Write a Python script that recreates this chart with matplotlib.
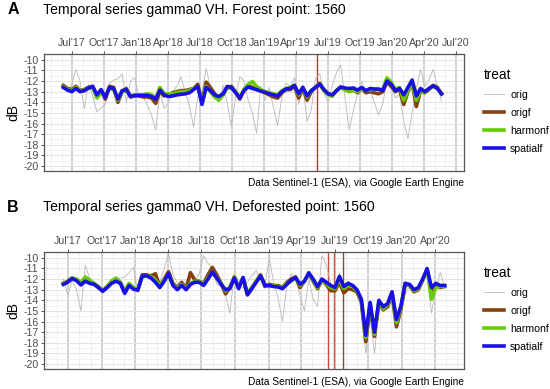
import numpy as np
import pandas as pd
import matplotlib
matplotlib.use("Agg")
import matplotlib.pyplot as plt
import matplotlib.dates as mdates

plt.rcParams['font.family'] = ['Liberation Sans', 'DejaVu Sans']
plt.rcParams['axes.unicode_minus'] = False

# ---- Panel A: forest point ----
start_a = "2017-06-06"
orig_a = [-12.3, -13.0, -12.4, -10.9, -12.0, -14.6, -12.3, -13.4, -14.9, -14.5,
          -14.2, -12.2, -11.9, -11.8, -11.3, -14.0, -12.0, -11.7, -13.5, -13.4,
          -14.3, -15.2, -16.6, -13.0, -14.6, -14.0, -13.0, -12.5, -11.6, -13.0,
          -14.3, -16.3, -13.5, -13.0, -10.8, -12.6, -13.2, -14.0, -12.4, -14.0,
          -16.3, -13.5, -11.6, -12.0, -13.8, -15.0, -16.9, -12.5, -13.8, -12.6,
          -14.5, -16.2, -13.5, -12.2, -12.5, -11.7, -14.2, -12.3, -15.8, -14.7,
          -11.8, -11.3, -13.0, -14.0, -12.4, -11.2, -10.5, -13.5, -16.6, -14.8,
          -13.2, -12.0, -13.1, -12.8, -14.0, -15.2, -14.2, -11.8, -12.2, -13.6,
          -13.2, -15.8, -17.4, -15.0, -12.8, -10.9, -12.5, -11.9, -10.9, -12.5,
          -13.9]
origf_a = [-12.4, -12.7, -12.8, -12.5, -12.9, -12.8, -12.6, -12.5, -13.4, -12.9,
           -13.7, -12.5, -12.6, -14.0, -13.0, -12.7, -13.5, -13.4, -13.4, -13.5,
           -13.5, -13.6, -14.1, -12.9, -13.4, -13.3, -13.1, -13.0, -12.9, -12.9,
           -12.8, -12.7, -12.3, -14.0, -12.1, -12.6, -13.2, -13.6, -13.3, -12.6,
           -12.5, -13.0, -13.7, -12.8, -12.4, -12.6, -12.8, -12.9, -13.1, -13.3,
           -13.5, -13.6, -13.1, -12.8, -12.8, -12.5, -13.6, -12.7, -13.8, -13.0,
           -12.6, -12.2, -12.8, -13.2, -13.4, -12.9, -12.6, -12.8, -12.9, -12.8,
           -13.1, -12.7, -13.1, -13.0, -13.1, -13.2, -13.0, -12.1, -12.5, -13.0,
           -12.8, -14.2, -13.0, -12.2, -14.4, -12.9, -13.1, -12.8, -12.4, -12.6,
           -13.2]
harmonf_a = [-12.5, -12.8, -12.9, -12.6, -12.95, -12.85, -12.7, -12.6, -13.6, -13.1,
             -13.4, -12.7, -12.8, -13.8, -13.0, -12.9, -13.4, -13.3, -13.3, -13.3,
             -13.2, -13.3, -13.6, -12.6, -13.2, -13.2, -13.2, -13.1, -13.0, -13.0,
             -12.9, -12.7, -12.5, -14.0, -12.5, -13.0, -13.5, -13.8, -13.3, -12.6,
             -12.7, -13.0, -13.5, -12.8, -12.3, -12.05, -12.5, -12.8, -13.0, -13.1,
             -13.2, -13.3, -12.9, -12.7, -12.6, -12.4, -13.3, -12.6, -13.5, -12.9,
             -12.6, -12.3, -12.9, -13.3, -13.4, -12.9, -12.6, -12.8, -13.0, -12.9,
             -13.0, -12.7, -12.9, -12.8, -12.8, -12.8, -12.8, -11.7, -12.1, -12.8,
             -12.6, -13.8, -12.9, -12.2, -13.8, -12.9, -13.1, -12.7, -12.5, -12.7,
             -13.2]
spatialf_a = [-12.6, -12.85, -13.0, -12.7, -13.0, -12.9, -12.65, -12.5, -13.3, -12.8,
              -13.55, -12.6, -12.7, -13.7, -12.9, -12.8, -13.45, -13.35, -13.35, -13.35,
              -13.35, -13.45, -13.7, -12.85, -13.3, -13.45, -13.4, -13.3, -13.25, -13.2,
              -13.1, -12.8, -12.5, -14.2, -12.6, -12.9, -13.3, -13.45, -13.2, -12.5,
              -12.6, -13.1, -13.6, -12.9, -12.55, -12.7, -12.8, -12.95, -13.05, -13.2,
              -13.3, -13.4, -13.0, -12.75, -12.7, -12.4, -13.2, -12.6, -13.4, -12.9,
              -12.6, -12.3, -12.8, -13.2, -13.3, -12.9, -12.55, -12.65, -12.7, -12.65,
              -12.85, -12.6, -12.9, -12.7, -12.75, -12.75, -12.9, -12.0, -12.3, -12.9,
              -12.7, -13.3, -12.6, -11.9, -13.4, -12.7, -13.0, -12.7, -12.45, -12.7,
              -13.2]
events_a = ["2019-06-01"]

# ---- Panel B: deforested point ----
start_b = "2017-06-18"
orig_b = [-12.0, -13.5, -12.2, -13.0, -15.0, -10.7, -11.9, -12.6, -12.8, -13.1,
          -12.6, -12.4, -12.1, -11.9, -11.8, -11.4, -10.9, -13.3, -12.0, -11.8,
          -11.8, -12.0, -12.3, -11.0, -9.6, -11.6, -12.3, -12.7, -12.4, -11.6,
          -12.1, -11.5, -9.8, -10.5, -11.0, -12.5, -12.7, -13.5, -15.2, -11.5,
          -12.1, -12.9, -12.3, -11.7, -11.2, -12.0, -12.5, -10.0, -12.4, -13.8,
          -16.0, -12.6, -11.5, -12.0, -13.5, -15.0, -12.0, -13.9, -14.6, -9.8,
          -10.7, -12.4, -12.9, -11.4, -13.0, -12.2, -12.9, -13.5, -14.0, -19.0,
          -15.7, -19.0, -14.7, -15.0, -14.4, -13.5, -16.6, -15.1, -13.4, -12.7,
          -13.0, -12.7, -11.6, -11.4, -15.2, -13.0, -11.35, -12.8]
origf_b = [-12.4, -12.2, -11.9, -12.1, -12.5, -12.0, -12.3, -12.4, -12.8, -13.1,
           -12.7, -12.2, -12.0, -12.3, -13.2, -12.5, -12.9, -13.0, -11.6, -11.6,
           -11.7, -11.5, -12.7, -12.0, -11.3, -12.4, -12.8, -12.3, -12.9, -11.4,
           -12.1, -12.2, -12.4, -11.6, -10.9, -11.6, -12.4, -13.4, -12.8, -11.8,
           -12.8, -11.9, -13.5, -12.9, -12.2, -11.6, -12.7, -12.5, -12.6, -12.6,
           -12.8, -12.3, -12.0, -11.8, -12.8, -12.2, -11.5, -12.2, -12.9, -12.1,
           -12.5, -13.1, -13.1, -12.3, -13.3, -12.9, -13.0, -13.2, -14.2, -17.9,
           -14.5, -17.4, -14.2, -14.9, -14.6, -13.4, -16.5, -14.9, -12.5, -12.6,
           -13.2, -13.0, -12.1, -11.1, -13.2, -12.7, -12.8, -12.7]
harmonf_b = [-12.4, -12.3, -11.9, -12.0, -12.3, -11.8, -12.1, -12.4, -12.7, -13.1,
             -12.7, -12.2, -11.9, -12.3, -13.2, -12.4, -12.8, -13.0, -11.7, -11.7,
             -11.8, -12.1, -12.6, -12.1, -11.6, -12.5, -12.9, -12.5, -12.9, -12.4,
             -12.2, -12.2, -12.5, -11.9, -11.4, -11.9, -12.4, -13.1, -12.8, -11.8,
             -12.8, -11.9, -13.3, -12.8, -12.2, -11.7, -12.5, -12.7, -12.6, -12.7,
             -12.8, -12.4, -12.2, -11.9, -12.6, -12.2, -11.5, -12.1, -12.8, -12.1,
             -12.4, -12.8, -12.9, -12.0, -12.9, -12.6, -12.7, -13.1, -14.0, -17.5,
             -14.3, -17.2, -14.1, -14.8, -14.4, -13.3, -16.1, -14.7, -12.4, -12.6,
             -13.1, -12.9, -12.1, -11.1, -13.9, -12.8, -12.7, -12.7]
spatialf_b = [-12.5, -12.3, -11.95, -12.15, -12.55, -12.2, -12.4, -12.5, -12.8, -13.15,
              -12.8, -12.4, -12.2, -12.4, -13.35, -12.6, -12.95, -13.05, -11.7, -11.7,
              -11.9, -12.3, -12.8, -12.2, -11.5, -12.6, -13.0, -12.6, -13.0, -12.5,
              -12.3, -12.3, -12.6, -12.0, -11.35, -11.9, -12.5, -13.0, -12.9, -11.9,
              -12.9, -11.85, -13.45, -12.9, -12.3, -11.7, -12.6, -12.6, -12.7, -12.75,
              -12.9, -12.5, -12.1, -11.85, -12.5, -12.2, -11.4, -12.0, -12.7, -12.0,
              -12.3, -12.6, -12.8, -11.75, -12.7, -12.4, -12.6, -13.0, -13.9, -17.3,
              -14.2, -17.0, -14.0, -14.6, -14.3, -13.2, -15.8, -14.6, -12.4, -12.5,
              -13.0, -12.8, -12.0, -11.0, -12.8, -12.4, -12.6, -12.6]
events_b = ["2019-06-14", "2019-06-28", "2019-07-25"]
event_colors_b = ["#c0503c", "#c0603c", "#7a5040"]

treats = ["orig", "origf", "harmonf", "spatialf"]
colors = {"orig": "#b8b8b8", "origf": "#84400f", "harmonf": "#66cc00", "spatialf": "#1a10e6"}
widths = {"orig": 0.6, "origf": 2.6, "harmonf": 2.6, "spatialf": 2.6}
caption = "Data Sentinel-1 (ESA), via Google Earth Engine"

fig = plt.figure(figsize=(5.5, 3.89), dpi=100)


def panel(rect, start, series, events, ev_colors, xlim, letter, title, fig_y_title, fig_y_caption, leg_y):
    ax = fig.add_axes(rect)
    dates = pd.date_range(start, periods=len(series["orig"]), freq="12D")
    ax.set_xlim(pd.Timestamp(xlim[0]), pd.Timestamp(xlim[1]))
    ax.set_ylim(-20.47, -9.45)
    ax.set_yticks(np.arange(-20, -9, 1))
    ax.set_yticks(np.arange(-19.5, -9.5, 1), minor=True)
    ax.xaxis.set_major_locator(mdates.MonthLocator(bymonth=[1, 4, 7, 10]))
    ax.xaxis.set_minor_locator(mdates.MonthLocator())
    ax.xaxis.set_major_formatter(mdates.DateFormatter("%b'%y"))
    ax.xaxis.tick_top()
    ax.grid(which="major", axis="x", color="#c4c4c4", lw=1.1)
    ax.grid(which="minor", axis="x", color="#ececec", lw=0.6)
    ax.grid(which="major", axis="y", color="#e4e4e4", lw=0.7)
    ax.grid(which="minor", axis="y", color="#efefef", lw=0.5)
    ax.set_axisbelow(True)
    for s in ax.spines.values():
        s.set_color("#555555")
        s.set_linewidth(0.9)
    ax.tick_params(which="major", length=2.5, width=0.7, color="#555555",
                   labelsize=7.7, labelcolor="#4d4d4d", pad=1.5)
    ax.tick_params(which="minor", length=0)
    for d, c in zip(events, ev_colors):
        ax.axvline(pd.Timestamp(d), color=c, lw=1.0, zorder=1.5)
    for t in treats:
        ax.plot(dates, series[t], color=colors[t], lw=widths[t], label=t,
                solid_joinstyle="round", zorder=2)
    ax.set_ylabel("dB", fontsize=10, labelpad=2)
    fig.text(0.013, fig_y_title, letter, fontsize=11.5, fontweight="bold", va="center")
    fig.text(0.078, fig_y_title, title, fontsize=10.1, va="center")
    fig.text(rect[0] + rect[2], fig_y_caption, caption, fontsize=7.3, ha="right", va="center")
    leg = ax.legend(loc="upper left", bbox_to_anchor=(0.872, leg_y), bbox_transform=fig.transFigure,
                    frameon=False, title="treat", fontsize=7.6, title_fontsize=9.8,
                    handlelength=1.9, handletextpad=0.6, labelspacing=0.75, borderaxespad=0)
    leg._legend_box.align = "left"
    return ax


panel([0.08, 0.5604, 0.7636, 0.3008], start_a,
      {"orig": orig_a, "origf": origf_a, "harmonf": harmonf_a, "spatialf": spatialf_a},
      events_a, ["#b03a2e"], ("2017-04-12", "2020-07-24"),
      "A", "Temporal series gamma0 VH. Forest point: 1560", 1 - 10 / 389, 1 - 183 / 389, 1 - 64 / 389)
panel([0.08, 0.0514, 0.7636, 0.3008], start_b,
      {"orig": orig_b, "origf": origf_b, "harmonf": harmonf_b, "spatialf": spatialf_b},
      events_b, event_colors_b, ("2017-04-26", "2020-06-19"),
      "B", "Temporal series gamma0 VH. Deforested point: 1560", 1 - 207 / 389, 1 - 382 / 389, 1 - 262 / 389)

fig.savefig("out.png", dpi=100)
